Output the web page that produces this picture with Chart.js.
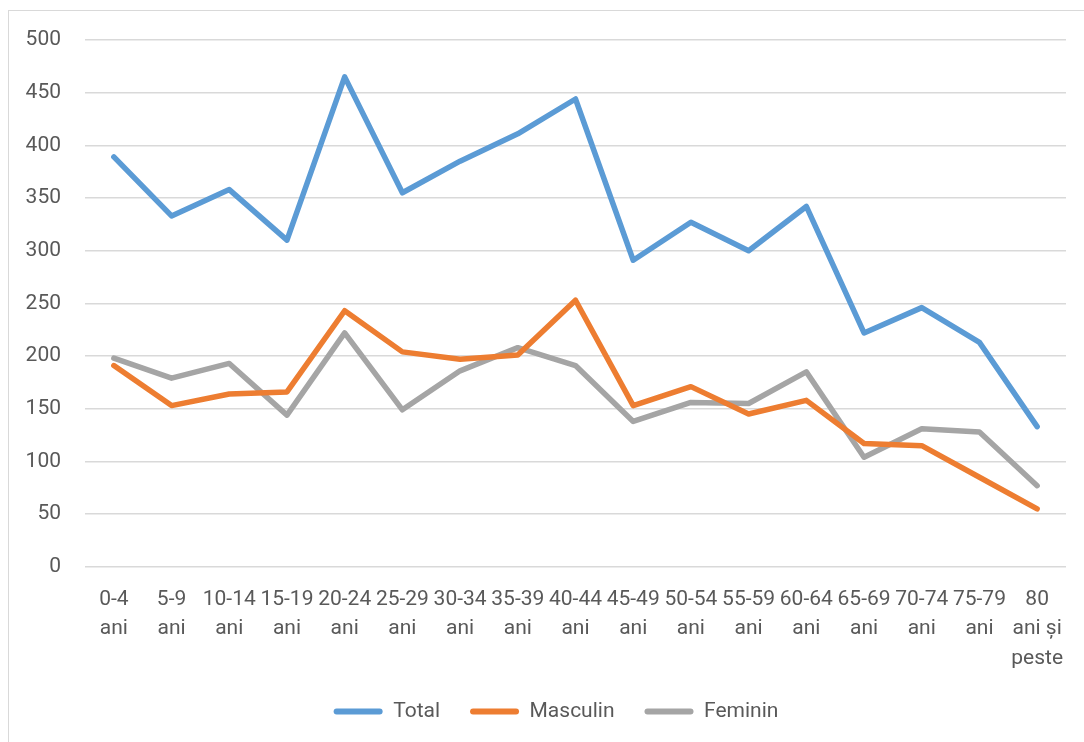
<!DOCTYPE html>
<html>
<head>
<meta charset="utf-8">
<script src="https://cdn.jsdelivr.net/npm/chart.js@4"></script>
<style>
  html, body { margin: 0; padding: 0; background: #fff; overflow: hidden; }
  #frame { position: absolute; left: 8px; top: 10px; width: 1200px; height: 900px; border: 1.5px solid #d9d9d9; box-sizing: border-box; }
  #wrap { position: absolute; left: 0; top: 0; width: 1084px; height: 742px; }
</style>
</head>
<body>
<div id="frame"></div>
<div id="wrap"><canvas id="c" width="1084" height="742"></canvas></div>
<script>
const categories = [
  ["0-4","ani"],["5-9","ani"],["10-14","ani"],["15-19","ani"],["20-24","ani"],
  ["25-29","ani"],["30-34","ani"],["35-39","ani"],["40-44","ani"],["45-49","ani"],
  ["50-54","ani"],["55-59","ani"],["60-64","ani"],["65-69","ani"],["70-74","ani"],
  ["75-79","ani"],["80","ani și","peste"]
];
const total    = [389, 333, 358, 310, 465, 355, 385, 411, 444, 291, 327, 300, 342, 222, 246, 213, 133];
const masculin = [191, 153, 164, 166, 243, 204, 197, 201, 253, 153, 171, 145, 158, 117, 115, 85, 55];
const feminin  = [198, 179, 193, 144, 222, 149, 186, 208, 191, 138, 156, 155, 185, 104, 131, 128, 77];
const seriesNames = ["Total", "Masculin", "Feminin"];
const yTicks = [0, 50, 100, 150, 200, 250, 300, 350, 400, 450, 500];

const colors = ["#5B9BD5", "#ED7D31", "#A5A5A5"];
const fontFamily = "Roboto, 'Open Sans', sans-serif";

function ds(label, data, color) {
  return {
    label, data,
    borderColor: color, backgroundColor: color,
    borderWidth: 5.5, pointRadius: 0, pointHoverRadius: 0,
    borderCapStyle: 'round', borderJoinStyle: 'round', tension: 0
  };
}

const legendShift = {
  id: 'legendShift',
  afterLayout(chart) {
    if (chart.legend) { chart.legend.left += 23; chart.legend.right += 23; }
  }
};

new Chart(document.getElementById('c'), {
  type: 'line',
  plugins: [legendShift],
  data: {
    labels: categories,
    datasets: [
      ds(seriesNames[0], total, colors[0]),
      ds(seriesNames[1], masculin, colors[1]),
      ds(seriesNames[2], feminin, colors[2])
    ]
  },
  options: {
    responsive: false,
    animation: false,
    devicePixelRatio: 1,
    layout: { padding: { left: 0, right: 18, top: 40, bottom: 10 } },
    plugins: {
      tooltip: { enabled: false },
      legend: {
        position: 'bottom',
        labels: {
          boxWidth: 49, boxHeight: 6, padding: 30,
          color: '#595959',
          font: { family: fontFamily, size: 21 },
          useBorderRadius: true, borderRadius: 3,
          generateLabels: (chart) => chart.data.datasets.map((d, i) => ({
            text: d.label, fillStyle: d.borderColor, strokeStyle: d.borderColor,
            lineWidth: 0, hidden: false, datasetIndex: i, fontColor: '#595959',
            borderRadius: 3
          }))
        }
      }
    },
    scales: {
      x: {
        type: 'category',
        offset: true,
        afterFit: (s) => { s.height = s.height - 20; },
        grid: { display: false, drawTicks: false },
        border: { display: false },
        ticks: {
          color: '#595959', autoSkip: false, maxRotation: 0, minRotation: 0,
          padding: 18,
          font: { family: fontFamily, size: 21, lineHeight: 1.4 }
        }
      },
      y: {
        min: 0, max: 500,
        afterFit: (s) => { s.width = 85; },
        afterBuildTicks: (s) => { s.ticks = yTicks.map(v => ({ value: v })); },
        grid: { color: '#d9d9d9', lineWidth: 1.5, drawTicks: false },
        border: { display: false },
        ticks: {
          color: '#595959', padding: 24,
          font: { family: fontFamily, size: 21 }
        }
      }
    }
  }
});
</script>
</body>
</html>
